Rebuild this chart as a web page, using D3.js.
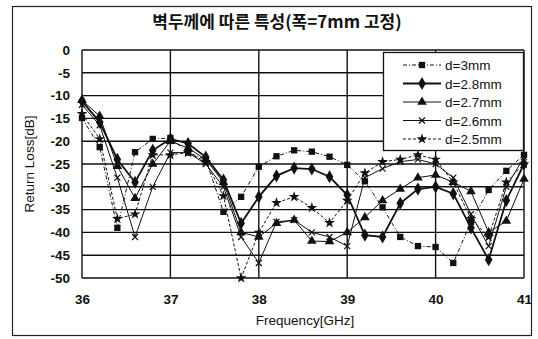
<!DOCTYPE html>
<html>
<head>
<meta charset="utf-8">
<script src="https://cdn.jsdelivr.net/npm/d3@7"></script>
<style>
  body { margin: 0; background: #fff; }
  svg { display: block; }
  text { font-family: Arial, "Liberation Sans", sans-serif; fill: #111; }
</style>
</head>
<body>
<div id="chart"></div>
<script>
// frequency points (GHz), 0.2 GHz step
const freqs = [36.0, 36.2, 36.4, 36.6, 36.8, 37.0, 37.2, 37.4, 37.6, 37.8, 38.0, 38.2, 38.4,
  38.6, 38.8, 39.0, 39.2, 39.4, 39.6, 39.8, 40.0, 40.2, 40.4, 40.6, 40.8, 41.0];

const d30 = [-14.9, -21.3, -39, -22.4, -19.5, -19.3, -22.5, -24, -35.5, -32.2, -25.6, -23.3, -22,
  -22.3, -23.4, -25.2, -28.8, -34.5, -41, -43, -43.2, -46.7, -37.7, -30.7, -26.5, -23];
const d28 = [-11.2, -15.8, -24, -29, -22, -19.5, -20.5, -23.5, -28.5, -38, -32.2, -27.6, -25.9,
  -26.1, -27.8, -31.8, -40.6, -41, -33.6, -30.5, -30, -31.5, -39, -46, -33, -25];
const d27 = [-11, -14.5, -25.5, -32.5, -25, -20, -21.5, -24, -29, -40, -41, -38, -37.3,
  -41.9, -42, -40, -36.7, -33, -30.5, -28, -27.4, -29, -31, -40, -37.5, -28.3];
const d26 = [-12, -16.5, -28, -41, -30, -22.5, -22.5, -25, -30, -41, -46.7, -37.7, -37.3,
  -40, -41, -43, -28, -26, -24.5, -24, -25, -28, -36, -43, -30, -23.5];
const d25 = [-14, -19.5, -37, -36, -23, -23, -22.5, -24.5, -32, -50, -40, -33.5, -32.2,
  -34.6, -37.9, -33, -27, -24.5, -24, -23, -24, -29, -37, -41, -29, -25];

const seriesNames = ['d=3mm', 'd=2.8mm', 'd=2.7mm', 'd=2.6mm', 'd=2.5mm'];
const xTicks = [36, 37, 38, 39, 40, 41];
const yTicks = [0, -5, -10, -15, -20, -25, -30, -35, -40, -45, -50];

const series = [
  { name: seriesNames[0], values: d30, symbol: d3.symbolSquare, size: 40, width: 1, dash: '4,2,1,2' },
  { name: seriesNames[1], values: d28, symbol: d3.symbolDiamond, size: 50, width: 1.8, dash: null },
  { name: seriesNames[2], values: d27, symbol: d3.symbolTriangle, size: 40, width: 1, dash: null },
  { name: seriesNames[3], values: d26, symbol: d3.symbolCross, size: 0, width: 1, dash: null, xmark: true },
  { name: seriesNames[4], values: d25, symbol: d3.symbolStar, size: 36, width: 1, dash: '3,2' }
];

const width = 538, height = 339;
const margin = { left: 82, right: 14, top: 50, bottom: 61 };

const svg = d3.select('#chart').append('svg')
  .attr('width', width).attr('height', height);

// outer frame
svg.append('rect')
  .attr('x', 12.5).attr('y', 6.5).attr('width', 519).attr('height', 329)
  .attr('fill', 'none').attr('stroke', '#222').attr('stroke-width', 1.2);

// title
svg.append('text')
  .attr('x', 277).attr('y', 28)
  .attr('text-anchor', 'middle')
  .style('font-family', '"Noto Sans CJK KR", sans-serif')
  .style('font-size', '17px').style('font-weight', 'bold')
  .text('벽두께에 따른 특성(폭=7mm 고정)');

const x = d3.scaleLinear().domain([36, 41]).range([margin.left, width - margin.right]);
const y = d3.scaleLinear().domain([-50, 0]).range([height - margin.bottom, margin.top]);

const g = svg.append('g');

// grid
g.append('g')
  .selectAll('line')
  .data(yTicks)
  .join('line')
  .attr('x1', x(36)).attr('x2', x(41))
  .attr('y1', d => y(d)).attr('y2', d => y(d))
  .attr('stroke', '#111').attr('stroke-width', 1.4);

g.append('g')
  .selectAll('line')
  .data(xTicks)
  .join('line')
  .attr('x1', d => x(d)).attr('x2', d => x(d))
  .attr('y1', y(0)).attr('y2', y(-50))
  .attr('stroke', '#111').attr('stroke-width', 1.4);

// axes (labels only), plain hyphen for negatives
const yAxis = g.append('g')
  .attr('transform', `translate(${x(36)},0)`)
  .call(d3.axisLeft(y).tickValues(yTicks).tickSize(0).tickPadding(12).tickFormat(d => String(d)));
yAxis.select('.domain').remove();
yAxis.selectAll('text').style('font-size', '13.5px').style('font-weight', 'bold').attr('fill', '#111');

const xAxis = g.append('g')
  .attr('transform', `translate(0,${y(-50)})`)
  .call(d3.axisBottom(x).tickValues(xTicks).tickSize(0).tickPadding(16).tickFormat(d => String(d)));
xAxis.select('.domain').remove();
xAxis.selectAll('text').style('font-size', '13.5px').style('font-weight', 'bold').attr('fill', '#111');

svg.append('text')
  .attr('x', 305).attr('y', 325)
  .attr('text-anchor', 'middle')
  .style('font-size', '13.5px')
  .text('Frequency[GHz]');

svg.append('text')
  .attr('transform', `translate(34,${(y(0) + y(-50)) / 2}) rotate(-90)`)
  .attr('text-anchor', 'middle')
  .style('font-size', '13.5px')
  .text('Return Loss[dB]');

// lines and markers
const line = d3.line().x((d, i) => x(freqs[i])).y(d => y(d));

function drawMarker(sel, s) {
  if (s.xmark) {
    sel.append('path')
      .attr('d', 'M-3,-3L3,3M-3,3L3,-3')
      .attr('stroke', '#111').attr('stroke-width', 1.2).attr('fill', 'none');
  } else {
    sel.append('path')
      .attr('d', d3.symbol().type(s.symbol).size(s.size))
      .attr('fill', '#111');
  }
}

series.forEach(s => {
  g.append('path')
    .datum(s.values)
    .attr('d', line)
    .attr('fill', 'none')
    .attr('stroke', '#111')
    .attr('stroke-width', s.width)
    .attr('stroke-dasharray', s.dash);

  g.append('g')
    .selectAll('g')
    .data(s.values)
    .join('g')
    .attr('transform', (d, i) => `translate(${x(freqs[i])},${y(d)})`)
    .each(function () { drawMarker(d3.select(this), s); });
});

// legend
const legend = svg.append('g').attr('transform', 'translate(383,52)');
legend.append('rect')
  .attr('x', 0.5).attr('y', 0.5).attr('width', 140).attr('height', 98)
  .attr('fill', '#fff').attr('stroke', '#111').attr('stroke-width', 1.3);

const items = legend.selectAll('g.item')
  .data(series)
  .join('g')
  .attr('transform', (d, i) => `translate(0,${13 + i * 18.5})`);

items.append('line')
  .attr('x1', 20).attr('x2', 58)
  .attr('stroke', '#111')
  .attr('stroke-width', d => d.width)
  .attr('stroke-dasharray', d => d.dash);

items.each(function (s) {
  drawMarker(d3.select(this).append('g').attr('transform', 'translate(39,0)'), s);
});

items.append('text')
  .attr('x', 62).attr('y', 5)
  .style('font-size', '13.5px')
  .text(d => d.name);
</script>
</body>
</html>
